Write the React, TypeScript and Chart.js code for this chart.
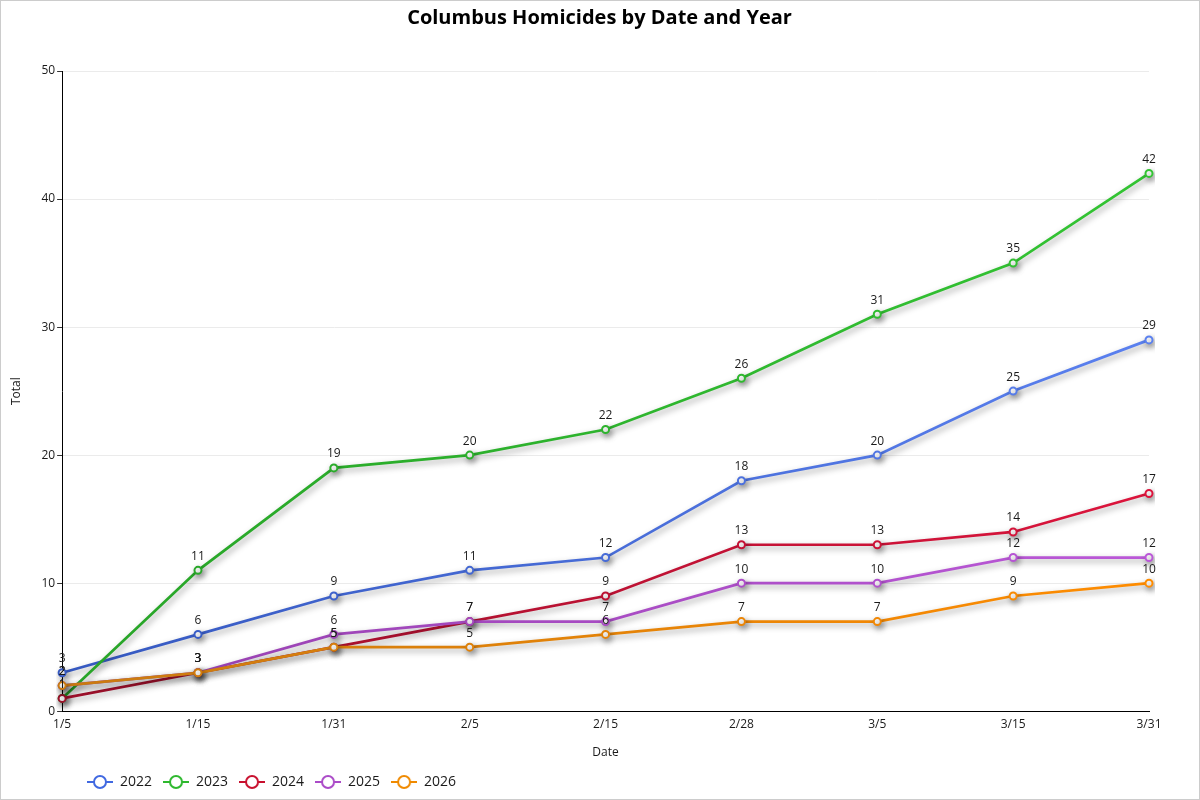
import React, { useEffect, useRef } from "react";
import { Chart, registerables } from "chart.js";

Chart.register(...registerables);

const dateLabels = ["1/5", "1/15", "1/31", "2/5", "2/15", "2/28", "3/5", "3/15", "3/31"];
const years = ["2022", "2023", "2024", "2025", "2026"];
const values2022 = [3, 6, 9, 11, 12, 18, 20, 25, 29];
const values2023 = [1, 11, 19, 20, 22, 26, 31, 35, 42];
const values2024 = [1, 3, 5, 7, 9, 13, 13, 14, 17];
const values2025 = [2, 3, 6, 7, 7, 10, 10, 12, 12];
const values2026 = [2, 3, 5, 5, 6, 7, 7, 9, 10];
const seriesValues = [values2022, values2023, values2024, values2025, values2026];
const baseColors = ["#4169e1", "#2eb82e", "#c8102e", "#ab4bc8", "#f08a00"];
const darkColors = ["#3558c0", "#28a428", "#9c0f2a", "#953fae", "#c97a10"];
const lightColors = ["#5a80ef", "#33c433", "#dc143c", "#bb58d8", "#ff8c00"];

const FONT = "'Open Sans', 'Noto Sans', sans-serif";

function legendIcon(color: string): HTMLCanvasElement {
  const c = document.createElement("canvas");
  c.width = 26;
  c.height = 16;
  const g = c.getContext("2d")!;
  g.strokeStyle = color;
  g.lineWidth = 2;
  g.beginPath();
  g.moveTo(0, 8);
  g.lineTo(26, 8);
  g.stroke();
  g.beginPath();
  g.arc(13, 8, 6, 0, Math.PI * 2);
  g.fillStyle = "#fff";
  g.fill();
  g.stroke();
  return c;
}

const shadowPlugin = {
  id: "lineShadow",
  beforeDatasetDraw(chart: any) {
    const ctx = chart.ctx;
    ctx.save();
    ctx.shadowColor = "rgba(0,0,0,0.38)";
    ctx.shadowBlur = 6;
    ctx.shadowOffsetX = 2;
    ctx.shadowOffsetY = 3;
  },
  afterDatasetDraw(chart: any) {
    chart.ctx.restore();
  },
};

const valueLabelPlugin = {
  id: "valueLabels",
  afterDatasetsDraw(chart: any) {
    const ctx = chart.ctx;
    ctx.save();
    ctx.font = `12px ${FONT}`;
    ctx.fillStyle = "#1a1a1a";
    ctx.textAlign = "center";
    ctx.textBaseline = "bottom";
    chart.data.datasets.forEach((ds: any, i: number) => {
      const meta = chart.getDatasetMeta(i);
      meta.data.forEach((pt: any, j: number) => {
        ctx.fillText(String(ds.data[j]), pt.x, pt.y - 8);
      });
    });
    ctx.restore();
  },
};

const shiftPlugin = {
  id: "boxShift",
  afterLayout(chart: any) {
    if (chart.legend) {
      chart.legend.left += 72;
      chart.legend.right += 72;
    }
    if (chart.titleBlock) {
      chart.titleBlock.left += 23;
      chart.titleBlock.right += 23;
    }
  },
};

export default function App() {
  const ref = useRef<HTMLCanvasElement | null>(null);

  useEffect(() => {
    document.body.style.margin = "0";
    const canvas = ref.current!;
    const icons = baseColors.map((c) => legendIcon(c));
    const makeGradient = (i: number) => (context: any) => {
      const chart = context.chart;
      const area = chart.chartArea;
      if (!area) return baseColors[i];
      const g = chart.ctx.createLinearGradient(area.left, 0, area.right, 0);
      g.addColorStop(0, darkColors[i]);
      g.addColorStop(1, lightColors[i]);
      return g;
    };
    const chart = new Chart(canvas, {
      type: "line",
      data: {
        labels: dateLabels,
        datasets: years.map((y, i) => ({
          label: y,
          data: seriesValues[i],
          borderColor: makeGradient(i),
          backgroundColor: "#fff",
          pointBackgroundColor: "#fff",
          pointBorderColor: makeGradient(i),
          pointRadius: 3.5,
          pointBorderWidth: 2,
          borderWidth: 2.7,
          tension: 0,
          fill: false,
          order: 5 - i,
        })),
      },
      options: {
        animation: false,
        responsive: false,
        layout: { padding: { left: 3, right: 50, top: 0, bottom: 0 } },
        plugins: {
          title: {
            display: true,
            text: "Columbus Homicides by Date and Year",
            color: "#000",
            font: { family: FONT, size: 20, weight: "bold" },
            padding: { top: 5, bottom: 41 },
          },
          legend: {
            position: "bottom",
            align: "start",
            labels: {
              usePointStyle: true,
              pointStyleWidth: 26,
              padding: 11,
              color: "#1a1a1a",
              font: { family: FONT, size: 14 },
              generateLabels: () =>
                years.map((y, i) => ({
                  text: y,
                  datasetIndex: i,
                  pointStyle: icons[i] as any,
                  fillStyle: "#fff",
                  strokeStyle: baseColors[i],
                  lineWidth: 0,
                  hidden: false,
                  fontColor: "#1a1a1a",
                })),
            },
          },
          tooltip: { enabled: false },
        },
        scales: {
          x: {
            type: "category",
            offset: false,
            grid: { display: false, drawTicks: false },
            border: { display: true, color: "#000", width: 1 },
            ticks: { color: "#1a1a1a", font: { family: FONT, size: 12 }, padding: 6, maxRotation: 0 },
            title: {
              display: true,
              text: "Date",
              color: "#1a1a1a",
              font: { family: FONT, size: 12 },
              padding: { top: 8, bottom: 4 },
            },
          },
          y: {
            min: 0,
            max: 50,
            ticks: { stepSize: 10, color: "#1a1a1a", font: { family: FONT, size: 12 }, padding: 2 },
            grid: { color: "#ebebeb", tickLength: 5, tickColor: "#333" },
            border: { display: true, color: "#000", width: 1 },
            title: {
              display: true,
              text: "Total",
              color: "#1a1a1a",
              font: { family: FONT, size: 12 },
              padding: { top: 5, bottom: 16 },
            },
          },
        },
      },
      plugins: [shadowPlugin, valueLabelPlugin, shiftPlugin],
    });
    return () => chart.destroy();
  }, []);

  return (
    <div
      style={{
        position: "fixed",
        left: 0,
        top: 0,
        width: 1200,
        height: 800,
        border: "1px solid #ccc",
        boxSizing: "border-box",
        background: "#fff",
        overflow: "hidden",
      }}
    >
      <canvas ref={ref} width={1198} height={798} style={{ display: "block" }} />
    </div>
  );
}
